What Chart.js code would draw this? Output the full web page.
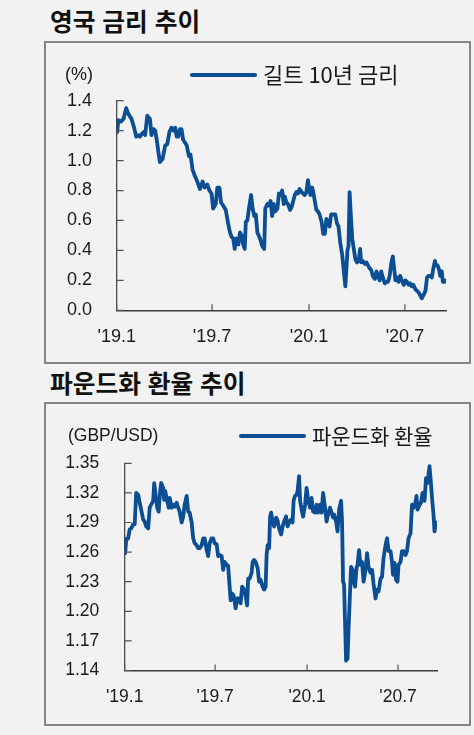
<!DOCTYPE html>
<html lang="ko">
<head>
<meta charset="utf-8">
<title>영국 금리 / 파운드화 환율 추이</title>
<script src="https://cdn.jsdelivr.net/npm/chart.js@4.4.1/dist/chart.umd.min.js"></script>
<style>
  body { margin: 0; width: 474px; height: 735px; background: #f2f2f2; position: relative; overflow: hidden; font-family: 'Noto Sans CJK KR', sans-serif; }
  .title { position: absolute; left: 50px; font-size: 24.7px; font-weight: 700; line-height: 25px; color: #111; white-space: nowrap; }
  .frame { position: absolute; left: 44px; width: 427px; box-sizing: border-box; border: 2px solid #858585; }
  .plot { position: absolute; left: 46px; width: 423px; height: 319px; }
</style>
</head>
<body>
<div class="title" style="top:8px">영국 금리 추이</div>
<div class="frame" style="top:41px;height:323px"></div>
<div class="plot" style="top:43px"><canvas id="gilt"></canvas></div>

<div class="title" style="top:370px">파운드화 환율 추이</div>
<div class="frame" style="top:402px;height:324px"></div>
<div class="plot" style="top:405px"><canvas id="gbp"></canvas></div>

<script>
// x = days counted from 2019-01-01
const xTickDays = [0, 181, 365, 547];
const xTickLabels = ["'19.1", "'19.7", "'20.1", "'20.7"];
const lastDay = 625;

// 길트 10년 금리 (%)
const giltDays = [
  0, 1, 3, 8, 13, 18, 21, 24, 28, 33, 37, 41, 44, 48, 51, 54, 58, 63, 66, 70,
  73, 76, 79, 82, 87, 92, 96, 100, 104, 108, 111, 114, 117, 120, 123, 126, 133, 137, 140, 144,
  148, 153, 158, 163, 167, 172, 176, 180, 183, 188, 191, 195, 198, 202, 207, 212, 215, 218, 221, 224,
  227, 231, 234, 237, 240, 243, 245, 248, 251, 255, 258, 261, 264, 267, 272, 276, 280, 282, 286, 289,
  292, 295, 298, 301, 305, 308, 311, 314, 317, 319, 322, 325, 329, 332, 335, 338, 341, 344, 347, 351,
  354, 357, 360, 363, 366, 368, 371, 373, 376, 379, 382, 385, 389, 392, 395, 398, 401, 404, 407, 411,
  415, 418, 421, 424, 428, 431, 434, 436, 438, 440, 442, 444, 447, 450, 453, 456, 459, 462, 464, 467,
  471, 474, 477, 480, 483, 486, 490, 493, 496, 499, 502, 505, 509, 512, 515, 518, 521, 524, 526, 529,
  532, 535, 538, 541, 545, 548, 551, 554, 557, 560, 563, 567, 570, 573, 576, 579, 582, 586, 589, 592,
  595, 598, 601, 604, 606, 609, 612, 614, 617, 619, 622, 625
];
const giltRates = [
  1.25, 1.19, 1.27, 1.26, 1.28, 1.35, 1.32, 1.30, 1.28, 1.22, 1.16, 1.17, 1.16, 1.18, 1.19, 1.17, 1.30, 1.28, 1.17, 1.21,
  1.20, 1.14, 1.06, 0.99, 1.01, 1.10, 1.11, 1.19, 1.22, 1.20, 1.22, 1.16, 1.16, 1.21, 1.21, 1.14, 1.10, 1.03, 1.04, 0.94,
  0.90, 0.86, 0.81, 0.86, 0.82, 0.84, 0.80, 0.78, 0.68, 0.71, 0.82, 0.82, 0.72, 0.70, 0.67, 0.57, 0.52, 0.49, 0.48, 0.41,
  0.48, 0.44, 0.52, 0.50, 0.44, 0.41, 0.59, 0.60, 0.68, 0.77, 0.68, 0.63, 0.64, 0.52, 0.48, 0.43, 0.41, 0.68, 0.71, 0.70,
  0.73, 0.63, 0.71, 0.66, 0.68, 0.78, 0.77, 0.80, 0.71, 0.76, 0.72, 0.71, 0.67, 0.69, 0.73, 0.77, 0.79, 0.78, 0.81, 0.79,
  0.78, 0.77, 0.79, 0.87, 0.79, 0.77, 0.82, 0.79, 0.73, 0.67, 0.66, 0.64, 0.59, 0.51, 0.51, 0.61, 0.58, 0.56, 0.64, 0.64,
  0.64, 0.58, 0.56, 0.46, 0.37, 0.26, 0.16, 0.28, 0.40, 0.43, 0.79, 0.66, 0.48, 0.41, 0.34, 0.32, 0.33, 0.41, 0.32, 0.33,
  0.31, 0.32, 0.30, 0.28, 0.27, 0.23, 0.21, 0.26, 0.23, 0.20, 0.26, 0.22, 0.18, 0.19, 0.19, 0.23, 0.31, 0.36, 0.30, 0.20,
  0.22, 0.19, 0.23, 0.20, 0.17, 0.20, 0.19, 0.17, 0.18, 0.16, 0.17, 0.14, 0.13, 0.12, 0.10, 0.08, 0.10, 0.13, 0.22, 0.23,
  0.23, 0.22, 0.28, 0.33, 0.30, 0.30, 0.27, 0.23, 0.26, 0.19, 0.19, 0.20
];
const giltTicks = [0, 0.2, 0.4, 0.6, 0.8, 1.0, 1.2, 1.4];

// 파운드화 환율 (GBP/USD)
const gbpDays = [
  0, 1, 3, 7, 10, 13, 17, 20, 23, 27, 30, 33, 37, 40, 43, 47, 50, 53, 57, 59,
  61, 65, 68, 71, 73, 77, 79, 81, 85, 88, 90, 94, 97, 100, 104, 107, 110, 114, 117, 120,
  124, 127, 130, 134, 137, 140, 144, 147, 150, 154, 157, 160, 164, 167, 170, 174, 177, 180, 184, 187,
  190, 194, 197, 200, 204, 207, 210, 212, 215, 218, 222, 225, 228, 232, 235, 238, 242, 245, 247, 250,
  254, 256, 259, 262, 266, 269, 272, 276, 279, 282, 284, 286, 289, 291, 293, 296, 299, 303, 306, 309,
  313, 316, 319, 323, 326, 329, 333, 336, 338, 341, 344, 346, 349, 351, 354, 357, 361, 364, 367, 371,
  374, 377, 381, 384, 387, 391, 394, 397, 401, 404, 407, 411, 414, 417, 419, 423, 426, 429, 433, 435,
  437, 439, 441, 443, 446, 448, 451, 453, 456, 458, 461, 464, 466, 469, 472, 475, 478, 482, 485, 488,
  492, 495, 498, 502, 505, 508, 512, 515, 518, 522, 525, 528, 532, 535, 537, 540, 543, 546, 548, 552,
  555, 558, 562, 565, 568, 572, 575, 578, 581, 584, 586, 590, 593, 596, 600, 603, 606, 610, 613, 615,
  618, 620, 623
];
const gbpRates = [
  1.274, 1.259, 1.272, 1.274, 1.283, 1.284, 1.288, 1.288, 1.320, 1.318, 1.310, 1.303, 1.293, 1.291, 1.286, 1.284, 1.305, 1.308, 1.312, 1.330,
  1.322, 1.305, 1.301, 1.322, 1.330, 1.325, 1.313, 1.322, 1.312, 1.305, 1.315, 1.305, 1.308, 1.306, 1.310, 1.305, 1.301, 1.290, 1.296, 1.308,
  1.317, 1.301, 1.300, 1.290, 1.274, 1.269, 1.267, 1.264, 1.264, 1.267, 1.274, 1.274, 1.262, 1.256, 1.269, 1.274, 1.274, 1.269, 1.268, 1.256,
  1.257, 1.256, 1.242, 1.250, 1.247, 1.246, 1.225, 1.211, 1.218, 1.216, 1.203, 1.213, 1.213, 1.208, 1.225, 1.223, 1.216, 1.206, 1.233, 1.233,
  1.239, 1.250, 1.252, 1.250, 1.244, 1.230, 1.232, 1.225, 1.222, 1.225, 1.257, 1.267, 1.264, 1.296, 1.300, 1.291, 1.286, 1.295, 1.292, 1.284,
  1.278, 1.286, 1.291, 1.296, 1.286, 1.290, 1.293, 1.290, 1.312, 1.317, 1.318, 1.322, 1.337, 1.312, 1.303, 1.296, 1.308, 1.325, 1.313, 1.305,
  1.315, 1.301, 1.300, 1.308, 1.300, 1.308, 1.300, 1.320, 1.305, 1.291, 1.298, 1.305, 1.300, 1.295, 1.298, 1.291, 1.281, 1.303, 1.312, 1.291,
  1.230, 1.227, 1.189, 1.150, 1.152, 1.182, 1.220, 1.245, 1.242, 1.230, 1.225, 1.244, 1.247, 1.262, 1.247, 1.250, 1.230, 1.242, 1.259, 1.245,
  1.239, 1.242, 1.228, 1.213, 1.222, 1.220, 1.233, 1.235, 1.254, 1.267, 1.274, 1.261, 1.261, 1.250, 1.237, 1.249, 1.232, 1.230, 1.247, 1.250,
  1.261, 1.261, 1.257, 1.261, 1.274, 1.279, 1.308, 1.305, 1.308, 1.317, 1.303, 1.308, 1.310, 1.320, 1.312, 1.335, 1.330, 1.347, 1.329, 1.315,
  1.298, 1.281, 1.290
];
const gbpTicks = [1.14, 1.17, 1.20, 1.23, 1.26, 1.29, 1.32, 1.35];

const lineColor = '#0c4e93';
const tickFont = "'Liberation Sans', Arial, sans-serif";

// inward tick marks, unit label and the line legend
const boxDecor = {
  id: 'boxDecor',
  afterDraw(chart, args, opts) {
    const { ctx, chartArea, scales } = chart;
    const ds = chart.data.datasets[0];
    ctx.save();
    ctx.strokeStyle = '#555';
    ctx.lineWidth = 1.2;
    ctx.beginPath();
    scales.y.ticks.forEach(t => {
      const y = scales.y.getPixelForValue(t.value);
      ctx.moveTo(chartArea.left, y);
      ctx.lineTo(chartArea.left + 7, y);
    });
    scales.x.ticks.forEach(t => {
      const x = scales.x.getPixelForValue(t.value);
      ctx.moveTo(x, chartArea.bottom);
      ctx.lineTo(x, chartArea.bottom - 6);
    });
    ctx.stroke();

    ctx.fillStyle = '#1a1a1a';
    ctx.textBaseline = 'middle';
    ctx.textAlign = 'left';
    ctx.font = opts.unitFont;
    ctx.fillText(opts.unit, opts.unitX, opts.rowY);

    ctx.strokeStyle = ds.borderColor;
    ctx.lineWidth = 4.2;
    ctx.lineCap = 'round';
    ctx.beginPath();
    ctx.moveTo(opts.legendX, opts.rowY);
    ctx.lineTo(opts.legendX + opts.legendW, opts.rowY);
    ctx.stroke();
    ctx.font = opts.legendFont;
    ctx.fillText(ds.label, opts.legendX + opts.legendW + 8, opts.rowY);
    ctx.restore();
  }
};

function makeChart(id, c) {
  return new Chart(document.getElementById(id), {
    type: 'line',
    data: {
      datasets: [{
        label: c.label,
        data: c.days.map((d, i) => ({ x: d, y: c.values[i] })),
        borderColor: lineColor,
        borderWidth: 3.8,
        borderJoinStyle: 'round',
        borderCapStyle: 'round',
        pointRadius: 0,
        tension: 0,
        fill: false
      }]
    },
    options: {
      responsive: true,
      maintainAspectRatio: false,
      animation: false,
      layout: { padding: { top: c.padTop, right: c.padRight, left: 0, bottom: 0 } },
      plugins: {
        legend: { display: false },
        tooltip: { enabled: false },
        boxDecor: c.decor
      },
      scales: {
        x: {
          type: 'linear',
          min: 0,
          max: lastDay,
          grid: { display: false, drawTicks: false },
          border: { display: true, color: '#3a3a3a', width: 1.4 },
          afterBuildTicks: s => { s.ticks = xTickDays.map(v => ({ value: v })); },
          afterFit: s => { s.height = c.xHeight; },
          ticks: {
            autoSkip: false,
            maxRotation: 0,
            padding: c.xPad,
            color: '#1a1a1a',
            font: { family: tickFont, size: c.fontSize },
            callback: (v, i) => xTickLabels[i]
          }
        },
        y: {
          min: c.ticks[0],
          max: c.ticks[c.ticks.length - 1],
          grid: { display: false, drawTicks: false },
          border: { display: true, color: '#4a4a4a', width: 1.3 },
          afterBuildTicks: s => { s.ticks = c.ticks.map(v => ({ value: v })); },
          afterFit: s => { s.width = c.yWidth; },
          ticks: {
            padding: c.yPad,
            color: '#1a1a1a',
            font: { family: tickFont, size: c.fontSize },
            callback: v => v.toFixed(c.decimals)
          }
        }
      }
    },
    plugins: [boxDecor]
  });
}

makeChart('gilt', {
  label: '길트 10년 금리',
  days: giltDays, values: giltRates, ticks: giltTicks, decimals: 1,
  padTop: 57.7, padRight: 23, yWidth: 70.7, xHeight: 51.7,
  fontSize: 18, xPad: 15.9, yPad: 24.7,
  decor: { unit: '(%)', unitX: 19, rowY: 32, unitFont: "18px " + tickFont,
           legendX: 146, legendW: 63, legendFont: "22px 'Noto Sans CJK KR', sans-serif" }
});

makeChart('gbp', {
  label: '파운드화 환율',
  days: gbpDays, values: gbpRates, ticks: gbpTicks, decimals: 2,
  padTop: 58.3, padRight: 32, yWidth: 78.7, xHeight: 53.5,
  fontSize: 17.5, xPad: 15.9, yPad: 25.4,
  decor: { unit: '(GBP/USD)', unitX: 22, rowY: 31, unitFont: "17.5px " + tickFont,
           legendX: 195, legendW: 63, legendFont: "21px 'Noto Sans CJK KR', sans-serif" }
});
</script>
</body>
</html>
